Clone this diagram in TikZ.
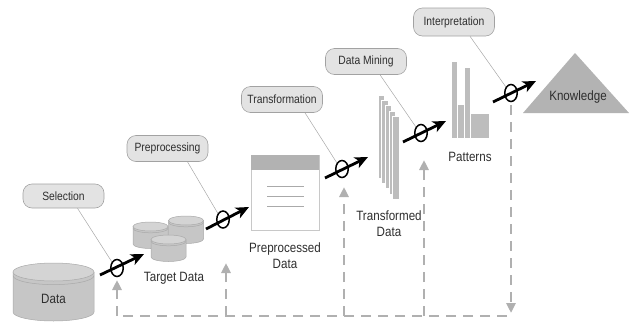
\documentclass[tikz,border=0pt]{standalone}
\usepackage{fontspec}
\setmainfont[FakeStretch=0.86]{Liberation Sans}
\usetikzlibrary{arrows.meta,calc,shapes.geometric}

\definecolor{txt}{HTML}{2E2E2E}
\definecolor{lblfill}{HTML}{E3E3E3}
\definecolor{lbledge}{HTML}{A2A2A2}
\definecolor{drumfill}{HTML}{C6C6C6}
\definecolor{drumlid}{HTML}{D4D4D4}
\definecolor{drumline}{HTML}{A9A9A9}
\definecolor{sheetedge}{HTML}{C8C8C8}
\definecolor{sheethead}{HTML}{B2B2B2}
\definecolor{barfill}{HTML}{BDBDBD}
\definecolor{peak}{HTML}{B3B3B3}
\definecolor{loopc}{HTML}{B0B0B0}
\definecolor{leaderc}{HTML}{A8A8A8}

% drum: name, centre x, lid centre y, x radius, y radius, height between end centres
\newcommand\drum[6]{%
  \coordinate (#1) at (#2,#3+#6/2);
  \fill[drumfill] (#2-#4,#3) -- (#2-#4,#3+#6)
     arc[start angle=180,end angle=0,x radius=#4,y radius=#5] -- (#2+#4,#3) -- cycle;
  \draw[drumline,line width=0.5pt] (#2-#4,#3) -- (#2-#4,#3+#6)
     arc[start angle=180,end angle=0,x radius=#4,y radius=#5] -- (#2+#4,#3);
  \filldraw[fill=drumlid,draw=drumline,line width=0.5pt] (#2,#3) ellipse[x radius=#4,y radius=#5];
  \draw[drumline,line width=0.5pt] (#2-#4,#3+0.4*#5)
     arc[start angle=180,end angle=0,x radius=#4,y radius=#5];
}

\begin{document}
\begin{tikzpicture}[x=1pt,y=-1pt,
  stepnote/.style={draw=lbledge,fill=lblfill,line width=0.6pt,rounded corners=9pt,
    minimum width=81pt,minimum height=26pt,inner sep=1pt,
    font=\fontsize{12}{13}\selectfont,text=txt},
  caption/.style={font=\fontsize{13.5}{16}\selectfont,text=txt,align=center,inner sep=0pt},
  flow/.style={line width=2.8pt,-{Stealth[length=13pt,width=11.5pt,inset=3.5pt]}},
  gate/.style={ellipse,draw,line width=1.5pt,minimum width=12.5pt,minimum height=17pt,inner sep=0pt},
  leader/.style={draw=leaderc,line width=0.5pt},
  loop/.style={draw=loopc,line width=2.6pt,dash pattern=on 10pt off 7pt},
  loophead/.style={-{Triangle[length=10pt,width=9pt]}}
]
\useasboundingbox (0,0) rectangle (630,322);

% ---- data stores ----
\drum{data}{53.5}{272}{40.5}{9}{40}
\node[caption] (datalbl) at (53.5,299) {Data};

\drum{tdA}{150.5}{226.5}{17.5}{4.5}{17.5}
\drum{tdB}{186}{220.5}{17.5}{4.5}{18.5}
\drum{tdC}{168.5}{239.5}{17.5}{4.5}{17.5}
\node[caption] (target) at (174,278) {Target Data};

% preprocessed sheet
\draw[sheetedge,fill=white,line width=0.8pt] (251,155) rectangle (319,230);
\fill[sheethead] (251,155) rectangle (319,170);
\foreach \yy in {186,196,206}
  \draw[sheetedge!85!black,line width=0.6pt] (267,\yy) -- (304,\yy);
\node[caption] (prep) at (285,256) {Preprocessed\\Data};

% transformed stack
\foreach \i in {0,...,4}
  \filldraw[fill=barfill,draw=white,line width=0.6pt]
    (378+3.6*\i,95+5.3*\i) rectangle ++(6.5,83);
\node[caption] (trans) at (389,224) {Transformed\\Data};

% patterns
\fill[barfill] (452,62) rectangle (456.5,138);
\fill[barfill] (457.5,105) rectangle (463.5,138);
\fill[barfill] (464.5,68) rectangle (470,138);
\fill[barfill] (471,114) rectangle (489,138);
\node[caption] (pat) at (470,157) {Patterns};

% knowledge
\fill[peak] (575,53) -- (629,113) -- (523,113) -- cycle;
\node[caption] (know) at (578,97) {Knowledge};

% ---- step labels ----
\node[stepnote,minimum height=24pt] (sel) at (63.5,196) {Selection};
\node[stepnote] (pre) at (167.5,148.5) {Preprocessing};
\node[stepnote] (tra) at (282,99.5) {Transformation};
\node[stepnote] (dmi) at (366,61.5) {Data Mining};
\node[stepnote,minimum height=28pt] (int) at (454,22) {Interpretation};

% ---- gates on the flow ----
\node[gate] (g1) at (117,268) {};
\node[gate] (g2) at (223,219.5) {};
\node[gate] (g3) at (342,169) {};
\node[gate] (g4) at (421,133) {};
\node[gate] (g5) at (511,93) {};

% leader lines
\draw[leader] ($(sel.south)+(14,0)$) -- (g1.130);
\draw[leader] ($(pre.south)+(20,0)$) -- (g2.130);
\draw[leader] ($(tra.south)+(23,0)$) -- (g3.130);
\draw[leader] ($(dmi.south)+(14,0)$) -- (g4.130);
\draw[leader] ($(int.south)+(16,0)$) -- (g5.130);

% flow arrows
\coordinate (a1) at (100,275); \coordinate (b1) at (144,254);
\coordinate (a2) at (206,229); \coordinate (b2) at (249,207);
\coordinate (a3) at (325,178); \coordinate (b3) at (368,157);
\coordinate (a4) at (403,142); \coordinate (b4) at (446,121);
\coordinate (a5) at (493,102); \coordinate (b5) at (536,81);
\foreach \k in {1,...,5}
  \draw[flow] (a\k) -- (b\k);

% ---- feedback loop ----
\coordinate (corner) at (511,316);
\coordinate (r1) at (117,316);
\coordinate (r2) at (226,316);
\coordinate (r3) at (344,316);
\coordinate (r4) at (424,316);
\draw[loop,loophead] (g5.south) ++(0,3) -- ($(corner)+(0,-3)$);
\draw[loop] ($(corner)+(-4,0)$) -- (r1);
\draw[loop,loophead] (r1) -- (117,280);
\draw[loop,loophead] (r2) -- (226,263);
\draw[loop,loophead] (r3) -- (344,187);
\draw[loop,loophead] (r4) -- (424,160);
\end{tikzpicture}
\end{document}
